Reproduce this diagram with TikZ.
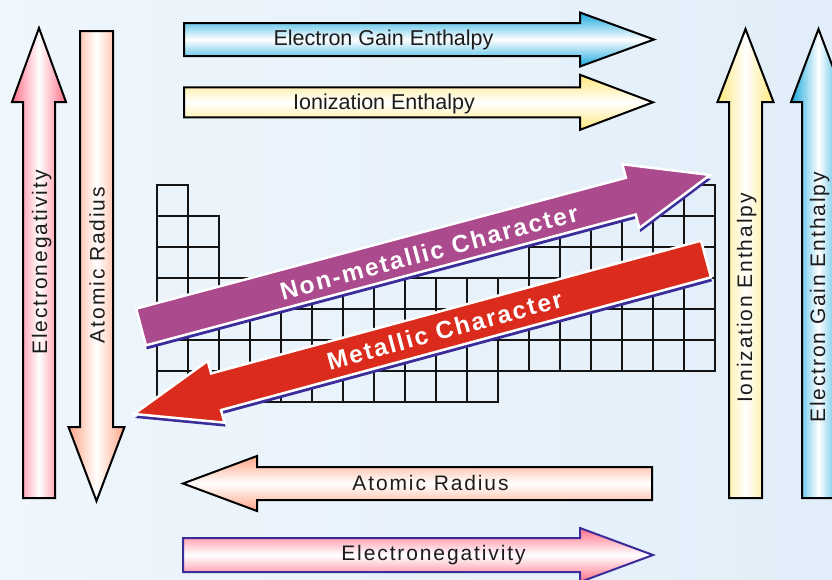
\documentclass[tikz,border=0pt]{standalone}
\usepackage{fontspec}
\setmainfont{Liberation Sans}
\newfontfamily\sidefont[LetterSpace=9]{Liberation Sans}
\newfontfamily\trendfont[LetterSpace=8]{Liberation Sans}
\usetikzlibrary{arrows.meta}

\definecolor{bgleft}{HTML}{EFF6FC}
\definecolor{bgright}{HTML}{E1EEF9}
\definecolor{gridblack}{HTML}{141414}
\definecolor{textgray}{HTML}{1C1C1C}
\definecolor{enpink}{HTML}{FF6F87}
\definecolor{arsalmon}{HTML}{FFA585}
\definecolor{ieyellow}{HTML}{FFE87A}
\definecolor{egblue}{HTML}{17A8DE}
\definecolor{nmpurple}{HTML}{AB4A8C}
\definecolor{mred}{HTML}{DB2B1D}
\definecolor{shadowblue}{HTML}{3A2C9A}

% fat arrow outlines: tail, head base, apex, axis, body half width, head half width
\newcommand{\hfat}[6]{(#1,#4-#5) -- (#2,#4-#5) -- (#2,#4-#6) -- (#3,#4) -- (#2,#4+#6) -- (#2,#4+#5) -- (#1,#4+#5) -- cycle}
\newcommand{\vfat}[6]{(#4-#5,#1) -- (#4-#5,#2) -- (#4-#6,#2) -- (#4,#3) -- (#4+#6,#2) -- (#4+#5,#2) -- (#4+#5,#1) -- cycle}

\tikzset{
  cellbox/.style={draw=gridblack,line width=2.6pt},
  fatbox/.style={draw=black,line width=2pt,line join=miter},
  vshade/.style={fatbox,left color=#1,right color=#1,middle color=white},
  hshade/.style={fatbox,top color=#1,bottom color=#1,middle color=white},
  toplabel/.style={anchor=base,inner sep=0pt,text=textgray,font=\fontsize{21.5}{25}\selectfont},
  sidelabel/.style={anchor=base,inner sep=0pt,text=textgray,font=\sidefont\fontsize{21}{25}\selectfont},
  trendlabel/.style={inner sep=0pt,text=white,font=\trendfont\bfseries\fontsize{24.5}{28}\selectfont},
  trendbox/.style={draw=white,line width=2.5pt,line join=miter}
}

\begin{document}
\begin{tikzpicture}[x=1pt,y=-1pt]
	\def\cell{31}
	\def\gx{157}
	\def\gy{185}
	\useasboundingbox (0,0) rectangle (832,579);
	\shade[left color=bgleft,right color=bgright] (0,0) rectangle (832,579);
%-----The table of the elements-----
	\foreach \r/\a/\b in {1/1/1,1/18/18,2/1/2,2/13/18,3/1/2,3/13/18,4/1/18,5/1/18,6/1/18,7/1/11}
		\foreach \c in {\a,...,\b}
			{
				\draw[cellbox] ({\gx+(\c-1)*\cell},{\gy+(\r-1)*\cell}) rectangle ++(\cell,\cell);
			}
%-----Vertical arrows-----
	\shade[vshade=enpink] \vfat{498}{102}{28}{39}{16}{27};
	\shade[vshade=arsalmon] \vfat{31}{427}{501}{96.5}{16.5}{28};
	\shade[vshade=ieyellow] \vfat{498}{102}{29}{745.5}{16.5}{28};
	\shade[vshade=egblue] \vfat{498}{102}{29}{818.5}{16.5}{27.5};
	\node[sidelabel,rotate=90] (envert) at (47,262.5) {Electronegativity};
	\node[sidelabel,rotate=90] (arvert) at (104.5,265) {Atomic Radius};
	\node[sidelabel,rotate=90] (ievert) at (752,298) {Ionization Enthalpy};
	\node[sidelabel,rotate=90] (egvert) at (825,297.5) {Electron Gain Enthalpy};
%-----Horizontal arrows-----
	\shade[hshade=egblue] \hfat{184}{580}{654}{39.5}{16.5}{27};
	\shade[hshade=ieyellow] \hfat{184}{580}{653}{102.3}{15}{27.5};
	\shade[hshade=arsalmon] \hfat{652}{257}{183}{483.5}{16.5}{27.5};
	\shade[hshade=enpink,draw=shadowblue] \hfat{183}{580}{653}{555}{17}{27};
	\node[toplabel] (eghoriz) at (383.5,45) {Electron Gain Enthalpy};
	\node[toplabel] (iehoriz) at (384,109.3) {Ionization Enthalpy};
	\node[sidelabel] (arhoriz) at (430.5,490) {Atomic Radius};
	\node[sidelabel] (enhoriz) at (433.5,560) {Electronegativity};
%-----Diagonal arrows with their shadows-----
	\begin{scope}[shift={(142,331)},rotate=14.96]
		\fill[shadowblue] \hfat{0}{507}{589}{0}{19}{33};
	\end{scope}
	\begin{scope}[shift={(141,327)},rotate=14.96]
		\fill[nmpurple,trendbox] \hfat{0}{507}{589}{0}{19}{33};
	\end{scope}
	\begin{scope}[shift={(707,263)},rotate=195.16]
		\fill[shadowblue] \hfat{0}{507.6}{592.6}{0}{19}{32};
	\end{scope}
	\begin{scope}[shift={(706,259)},rotate=195.16]
		\fill[mred,trendbox] \hfat{0}{507.6}{592.6}{0}{19}{32};
	\end{scope}
	\node[trendlabel,rotate=14.96] (nonmetal) at (429,252) {Non-metallic Character};
	\node[trendlabel,rotate=15.16] (metal) at (444.5,330) {Metallic Character};
\end{tikzpicture}
\end{document}
